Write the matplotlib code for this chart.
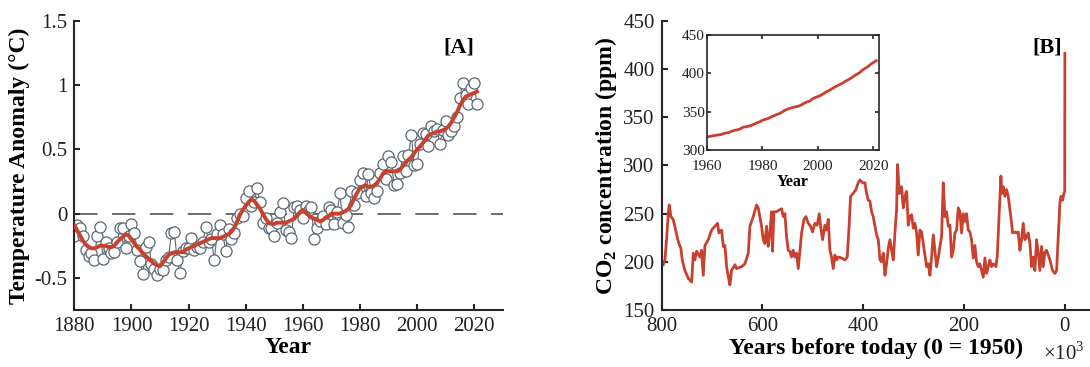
import numpy as np
import matplotlib
matplotlib.use("Agg")
import matplotlib.pyplot as plt

plt.rcParams['font.family'] = ['Liberation Serif', 'DejaVu Serif']
plt.rcParams['mathtext.fontset'] = 'custom'
plt.rcParams['mathtext.rm'] = 'Liberation Serif'
plt.rcParams['mathtext.bf'] = 'Liberation Serif:bold'

# ---------------- Panel A data ----------------
years = list(range(1880, 2022))
temp_anomaly = [
    -0.17, -0.09, -0.11, -0.17, -0.28, -0.33, -0.31, -0.36, -0.17, -0.10,
    -0.35, -0.22, -0.27, -0.31, -0.30, -0.22, -0.11, -0.11, -0.27, -0.17,
    -0.08, -0.15, -0.28, -0.37, -0.47, -0.26, -0.22, -0.39, -0.43, -0.48,
    -0.43, -0.44, -0.36, -0.34, -0.15, -0.14, -0.36, -0.46, -0.29, -0.27,
    -0.27, -0.19, -0.28, -0.26, -0.27, -0.22, -0.10, -0.22, -0.20, -0.36,
    -0.16, -0.09, -0.16, -0.29, -0.12, -0.20, -0.15, -0.03, -0.00, -0.02,
    0.12, 0.18, 0.06, 0.09, 0.20, 0.09, -0.07, -0.03, -0.11, -0.11,
    -0.17, -0.07, 0.01, 0.08, -0.13, -0.14, -0.19, 0.05, 0.06, 0.03,
    -0.03, 0.06, 0.03, 0.05, -0.20, -0.11, -0.06, -0.02, -0.08, 0.05,
    0.03, -0.08, 0.01, 0.16, -0.07, -0.01, -0.10, 0.18, 0.07, 0.16,
    0.26, 0.32, 0.14, 0.31, 0.16, 0.12, 0.18, 0.32, 0.39, 0.27,
    0.45, 0.40, 0.22, 0.23, 0.32, 0.45, 0.33, 0.46, 0.61, 0.38,
    0.39, 0.54, 0.63, 0.62, 0.53, 0.68, 0.64, 0.66, 0.54, 0.65,
    0.72, 0.61, 0.64, 0.68, 0.75, 0.90, 1.02, 0.92, 0.85, 0.98,
    1.02, 0.85]
temp_smooth = [
    -0.09, -0.13, -0.17, -0.21, -0.24, -0.26, -0.27, -0.27, -0.26, -0.25,
    -0.25, -0.25, -0.26, -0.26, -0.25, -0.22, -0.20, -0.18, -0.16, -0.17,
    -0.20, -0.23, -0.26, -0.28, -0.31, -0.33, -0.35, -0.37, -0.39, -0.40,
    -0.41, -0.38, -0.35, -0.32, -0.31, -0.30, -0.30, -0.30, -0.30, -0.28,
    -0.27, -0.26, -0.25, -0.24, -0.23, -0.22, -0.21, -0.20, -0.19, -0.19,
    -0.19, -0.19, -0.18, -0.17, -0.16, -0.14, -0.11, -0.06, -0.01, 0.03,
    0.06, 0.09, 0.11, 0.10, 0.07, 0.04, 0.00, -0.04, -0.07, -0.08,
    -0.08, -0.07, -0.07, -0.07, -0.07, -0.06, -0.05, -0.04, -0.01, 0.01,
    0.03, 0.01, -0.01, -0.03, -0.04, -0.05, -0.06, -0.05, -0.03, -0.02,
    0.00, 0.00, 0.00, 0.00, 0.01, 0.02, 0.04, 0.07, 0.12, 0.16,
    0.20, 0.21, 0.22, 0.21, 0.21, 0.22, 0.24, 0.27, 0.31, 0.33,
    0.33, 0.33, 0.33, 0.33, 0.34, 0.37, 0.40, 0.42, 0.44, 0.47,
    0.50, 0.52, 0.55, 0.58, 0.61, 0.62, 0.63, 0.64, 0.64, 0.65,
    0.66, 0.68, 0.71, 0.75, 0.79, 0.84, 0.88, 0.91, 0.92, 0.93,
    0.94, 0.95]
a_xticks = [1880, 1900, 1920, 1940, 1960, 1980, 2000, 2020]
a_yticks = [-0.5, 0, 0.5, 1, 1.5]
a_yticklabels = ['-0.5', '0', '0.5', '1', '1.5']

# ---------------- Panel B data (ice core, kyr before 1950) ----------------
ice_kyr = [
    796.8, 793.5, 790.2, 786.8, 784.9, 781.6, 777.0, 772.3, 768.3, 765.7,
    761.7, 759.1, 753.8, 747.2, 740.5, 737.2, 734.0, 730.6, 724.0, 720.7,
    717.4, 714.1, 707.5, 700.9, 694.2, 689.0, 686.3, 681.0, 677.7, 674.4,
    671.1, 667.8, 664.5, 661.2, 654.5, 651.3, 641.3, 634.7, 628.1, 624.8,
    618.2, 611.6, 608.3, 601.7, 598.4, 595.1, 591.8, 588.5, 585.2, 581.9,
    579.9, 577.2, 571.9, 566.6, 562.0, 558.7, 555.4, 552.1, 548.8, 545.5,
    542.2, 538.9, 535.6, 532.2, 528.9, 525.6, 522.3, 517.7, 513.7, 509.1,
    504.5, 500.5, 495.9, 491.3, 487.3, 484.6, 480.7, 476.0, 472.7, 469.4,
    466.1, 462.8, 459.5, 456.2, 452.9, 449.6, 443.0, 436.3, 431.7, 427.7,
    425.1, 419.8, 414.5, 409.9, 406.6, 401.3, 396.6, 393.3, 390.0, 386.7,
    383.4, 380.1, 376.8, 373.4, 370.1, 366.8, 363.5, 360.2, 356.9, 353.6,
    350.3, 347.0, 343.7, 340.4, 337.1, 333.8, 331.8, 328.5, 323.9, 320.5,
    317.2, 313.9, 310.6, 307.3, 304.0, 300.7, 297.4, 294.1, 290.8, 287.5,
    284.2, 278.9, 274.2, 270.9, 267.6, 264.3, 261.0, 257.7, 254.4, 251.1,
    247.8, 244.5, 241.2, 237.9, 234.6, 231.2, 227.9, 224.6, 221.3, 218.0,
    214.7, 211.4, 208.1, 204.8, 201.5, 198.2, 194.9, 191.6, 188.3, 185.0,
    181.7, 178.4, 175.1, 171.8, 168.5, 165.2, 161.8, 158.5, 155.2, 151.9,
    148.6, 145.3, 142.0, 136.7, 134.1, 131.4, 128.8, 126.8, 124.8, 122.2,
    118.9, 115.6, 112.2, 108.9, 105.6, 103.6, 99.0, 95.7, 92.4, 89.1,
    85.8, 82.5, 79.2, 75.9, 72.6, 69.2, 65.9, 62.6, 59.3, 56.0,
    52.7, 49.4, 46.1, 42.8, 39.5, 36.2, 29.5, 24.3, 19.6, 16.3,
    14.3, 12.4, 9.7, 7.7, 4.4, 1.8, 0.2]
ice_ppm = [
    197, 202, 223, 250, 259, 247, 244, 233, 224, 219,
    214, 202, 191, 183, 179, 209, 202, 211, 205, 212,
    186, 217, 223, 233, 237, 240, 230, 233, 216, 217,
    195, 185, 176, 191, 197, 193, 195, 198, 209, 237,
    247, 259, 256, 237, 223, 219, 237, 216, 230, 252,
    211, 252, 252, 254, 255, 247, 250, 226, 212, 211,
    205, 212, 205, 209, 193, 212, 230, 244, 247, 240,
    237, 231, 240, 238, 250, 237, 223, 238, 233, 244,
    212, 205, 193, 207, 202, 205, 204, 202, 205, 240,
    268, 271, 275, 282, 285, 282, 282, 271, 264, 263,
    252, 247, 237, 228, 223, 202, 200, 209, 186, 198,
    214, 223, 212, 202, 230, 254, 301, 271, 278, 256,
    268, 273, 238, 247, 249, 235, 240, 230, 207, 233,
    231, 212, 195, 198, 186, 205, 228, 212, 195, 204,
    216, 226, 282, 247, 252, 237, 238, 205, 212, 230,
    233, 256, 252, 230, 250, 242, 250, 233, 231, 223,
    204, 217, 200, 195, 198, 191, 184, 204, 188, 195,
    202, 195, 198, 195, 205, 237, 268, 289, 271, 278,
    268, 275, 268, 254, 240, 230, 231, 230, 231, 212,
    223, 240, 223, 226, 230, 219, 195, 205, 191, 223,
    209, 191, 216, 195, 210, 212, 202, 191, 188, 191,
    212, 233, 261, 268, 264, 271, 273]
# Mauna Loa annual means
ml_years = list(range(1960, 2022))
ml_ppm = [316.9, 317.6, 318.5, 319.0, 319.6, 320.0, 321.4, 322.2, 323.0, 324.6,
          325.7, 326.3, 327.5, 329.7, 330.2, 331.1, 332.0, 333.8, 335.4, 336.8,
          338.7, 339.9, 341.1, 342.8, 344.4, 346.0, 347.4, 349.2, 351.6, 353.1,
          354.4, 355.6, 356.4, 357.1, 358.8, 360.8, 362.6, 363.7, 366.7, 368.4,
          369.7, 371.3, 373.5, 375.8, 377.5, 379.8, 381.9, 383.8, 385.6, 387.4,
          389.9, 391.7, 393.9, 396.5, 398.7, 400.8, 404.2, 406.5, 408.7, 411.7,
          414.2, 416.4]
b_xticks = [800, 600, 400, 200, 0]
b_yticks = [150, 200, 250, 300, 350, 400, 450]
inset_xticks = [1960, 1980, 2000, 2020]
inset_yticks = [300, 350, 400, 450]

RED = '#C8402E'
AXC = '#262626'
MK = '#5B6771'

fig = plt.figure(figsize=(10.9, 3.67), dpi=100)

def style(ax, box=False, lw=1.5):
    for s in ['left', 'bottom']:
        ax.spines[s].set_linewidth(lw)
        ax.spines[s].set_color(AXC)
    for s in ['top', 'right']:
        ax.spines[s].set_visible(box)
        ax.spines[s].set_linewidth(lw)
        ax.spines[s].set_color(AXC)
    ax.tick_params(direction='in', length=4, width=lw, colors=AXC,
                   top=box, right=box, labelcolor='#222222')

# ---------------- Panel A ----------------
axA = fig.add_axes([0.0682, 0.1553, 0.393, 0.7875])
axA.axhline(0, color='#606060', lw=1.3, ls=(0, (13, 8)), zorder=1)
axA.plot(years, temp_anomaly, '-', color=MK, lw=0.8, marker='o', ms=8,
         mfc='white', mec=MK, mew=0.9, zorder=2)
axA.plot(years, temp_smooth, '-', color=RED, lw=2.8, zorder=3)
axA.set_xlim(1880, 2030)
axA.set_ylim(-0.75, 1.5)
axA.set_xticks(a_xticks)
axA.set_yticks(a_yticks)
axA.set_yticklabels(a_yticklabels)
style(axA)
axA.tick_params(labelsize=15, pad=5)
axA.set_xlabel('Year', fontsize=17, fontweight='bold', labelpad=1)
axA.set_ylabel('Temperature Anomaly (°C)', fontsize=17, fontweight='bold', labelpad=3)
axA.text(2014.6, 1.29, '[A]', fontsize=16, fontweight='bold', ha='center', va='center')

# ---------------- Panel B ----------------
axB = fig.add_axes([0.607, 0.1553, 0.393, 0.7875])
bx = ice_kyr + [-(y - 1950) / 1000.0 for y in ml_years]
by = ice_ppm + ml_ppm
axB.plot(bx, by, '-', color=RED, lw=2.0)
axB.set_xlim(800, -50)
axB.set_ylim(150, 450)
axB.set_xticks(b_xticks)
axB.set_yticks(b_yticks)
style(axB)
axB.tick_params(labelsize=15, pad=5)
axB.set_xlabel('Years before today (0 = 1950)', fontsize=17, fontweight='bold', labelpad=1)
axB.set_ylabel(r'CO$_{\mathbf{2}}$ concentration (ppm)', fontsize=17, fontweight='bold', labelpad=3)
axB.text(34.5, 423, '[B]', fontsize=16, fontweight='bold', ha='center', va='center')
fig.text(1064 / 1090, 1 - 353 / 367, r'$\times10^3$', fontsize=15, ha='center', va='center', color='#222222')

# ---------------- Inset ----------------
axI = fig.add_axes([0.6486, 0.5913, 0.1578, 0.3134])
axI.plot(ml_years, ml_ppm, '-', color=RED, lw=2.0)
axI.set_xlim(1960, 2022)
axI.set_ylim(300, 450)
axI.set_xticks(inset_xticks)
axI.set_yticks(inset_yticks)
style(axI, box=True, lw=1.2)
axI.tick_params(labelsize=11, length=3)
axI.tick_params(axis='x', pad=7)
axI.tick_params(axis='y', pad=1.5)
axI.set_xlabel('Year', fontsize=11.5, fontweight='bold', labelpad=1)

fig.savefig('out.png', dpi=100)
